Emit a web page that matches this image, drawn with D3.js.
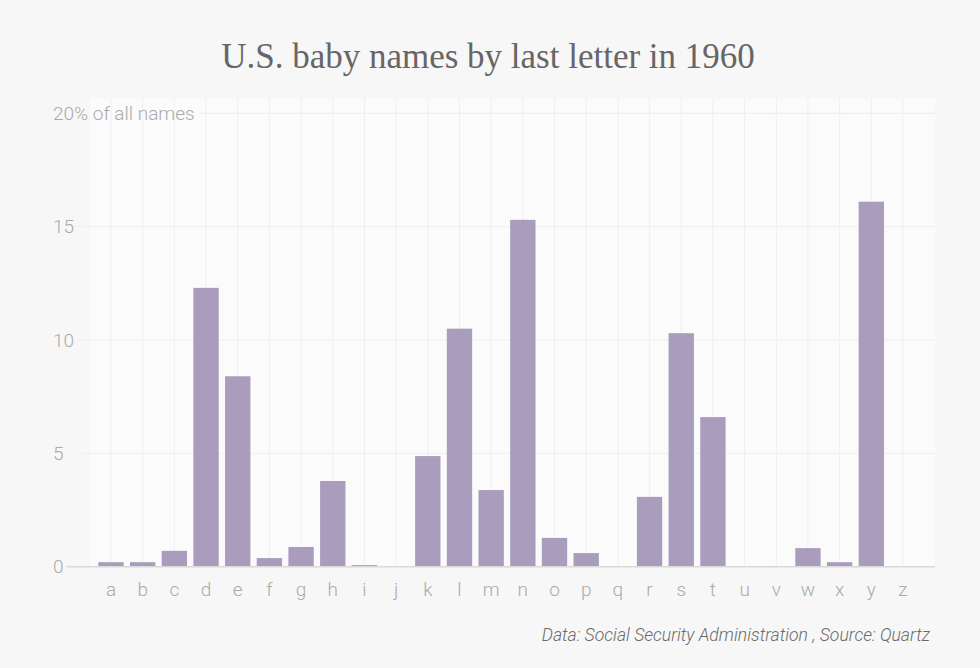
<!DOCTYPE html>
<html><head><meta charset="utf-8">
<script src="https://cdn.jsdelivr.net/npm/d3@7/dist/d3.min.js"></script>
<style>
html,body{margin:0;padding:0;background:#f7f7f7;}
svg{display:block;}
</style></head>
<body><svg id="c" width="980" height="668"></svg>
<script>
const letters = ["a","b","c","d","e","f","g","h","i","j","k","l","m","n","o","p","q","r","s","t","u","v","w","x","y","z"];
const shares = [0.2,0.2,0.7,12.3,8.4,0.38,0.87,3.78,0.07,0,4.88,10.5,3.38,15.3,1.27,0.6,0,3.08,10.3,6.6,0,0,0.82,0.2,16.1,0];
const yTicks = [0,5,10,15,20];
const title = "U.S. baby names by last letter in 1960";
const source = "Data: Social Security Administration , Source: Quartz";

const svg = d3.select("#c");
const sans = "Roboto, 'Open Sans', sans-serif";

const x = d3.scaleBand().domain(letters).range([92, 922]).paddingInner(0.2).paddingOuter(0.2);
const y = d3.scaleLinear().domain([0, 20]).range([566.7, 113.3]);

svg.append("rect").attr("x",0).attr("y",0).attr("width",980).attr("height",668).attr("fill","#f7f7f7");
svg.append("rect").attr("x",90).attr("y",98).attr("width",845).attr("height",y(0)-98).attr("fill","#fbfbfb");

svg.append("text").attr("x",488).attr("y",68).attr("text-anchor","middle")
  .attr("font-family","'Liberation Serif', 'DejaVu Serif', serif").attr("font-size",35)
  .attr("fill","#666").text(title);

// vertical gridlines
svg.append("g").selectAll("line").data(letters).join("line")
  .attr("x1",d=>x(d)+x.bandwidth()/2).attr("x2",d=>x(d)+x.bandwidth()/2)
  .attr("y1",98).attr("y2",y(0))
  .attr("stroke","#efefef").attr("stroke-width",1);

// horizontal gridlines
svg.append("g").selectAll("line").data(yTicks.filter(t=>t>0)).join("line")
  .attr("x1",d=>d===20?200:77).attr("x2",935)
  .attr("y1",d=>y(d)).attr("y2",d=>y(d))
  .attr("stroke","#eeeeee").attr("stroke-width",1);

// bars
svg.append("g").selectAll("rect").data(letters).join("rect")
  .attr("x",d=>x(d)).attr("width",x.bandwidth())
  .attr("y",(d,i)=>y(shares[i])).attr("height",(d,i)=>y(0)-y(shares[i]))
  .attr("fill","#a99cbd");

// baseline
svg.append("line").attr("x1",67).attr("x2",935).attr("y1",y(0)).attr("y2",y(0))
  .attr("stroke","#d9d9d9").attr("stroke-width",1.5);

// y labels
svg.append("g").selectAll("text").data(yTicks).join("text")
  .attr("x",53).attr("y",d=>y(d)+6.5)
  .attr("font-family",sans).attr("font-size",19).attr("font-weight",300).attr("fill","#aaa")
  .text(d=>d===20?"20% of all names":d);

// x labels
const xAxis = d3.axisBottom(x).tickSize(0).tickPadding(0);
const gx = svg.append("g").attr("transform",`translate(0,${y(0)})`).call(xAxis);
gx.select(".domain").remove();
gx.selectAll("text").attr("y",29).attr("dy",0)
  .attr("font-family",sans).attr("font-size",19).attr("font-weight",300).attr("fill","#aaa");

svg.append("text").attr("x",930).attr("y",641).attr("text-anchor","end")
  .attr("font-family",sans).attr("font-size",17.6).attr("font-style","italic").attr("font-weight",300)
  .attr("fill","#6a6a6a").text(source);
</script></body></html>
